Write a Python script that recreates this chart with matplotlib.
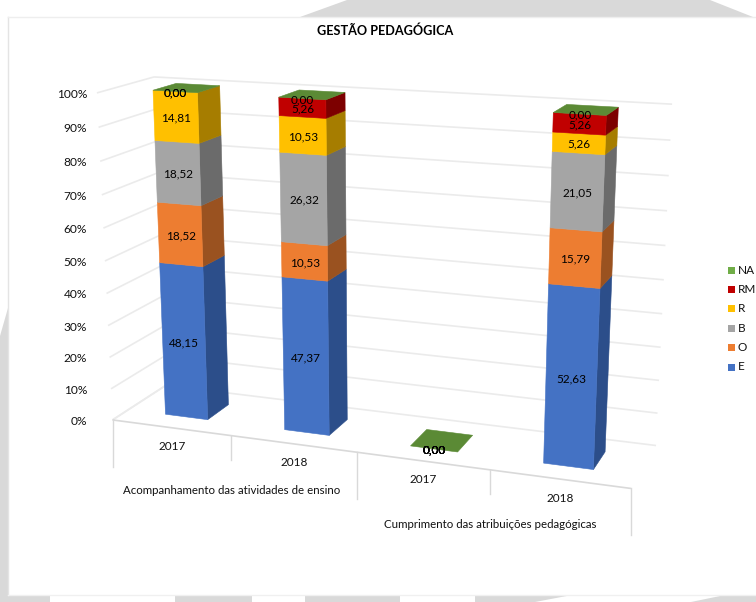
#!/usr/bin/env python3
import numpy as np
import matplotlib
matplotlib.use('Agg')
import matplotlib.pyplot as plt
from matplotlib.patches import Polygon, Rectangle

plt.rcParams['font.family'] = ['Lato', 'DejaVu Sans']

title = 'GESTÃO PEDAGÓGICA'
series = ['E', 'O', 'B', 'R', 'RM', 'NA']
years = ['2017', '2018', '2017', '2018']
groups = ['Acompanhamento das atividades de ensino', 'Cumprimento das atribuições pedagógicas']
E = [48.15, 47.37, 0.00, 52.63]
O = [18.52, 10.53, 0.00, 15.79]
B = [18.52, 26.32, 0.00, 21.05]
R = [14.81, 10.53, 0.00, 5.26]
RM = [0.00, 5.26, 0.00, 5.26]
NA = [0.00, 0.00, 0.00, 0.00]
values = [E, O, B, R, RM, NA]
pct_ticks = [0, 10, 20, 30, 40, 50, 60, 70, 80, 90, 100]

front = ['#4472C4', '#ED7D31', '#A5A5A5', '#FFC000', '#C00000', '#70AD47']
side = ['#2C4E8A', '#9A5220', '#6B6B6B', '#A67D00', '#7D0000', '#4A7330']
top_col = '#5B8A35'
grid = '#EBEBEB'
page = '#D9D9D9'

# camera fit: (category, percent, depth) -> pixel, solved from the box corners
box3d = [(0, 0, 0), (1, 0, 0), (2, 0, 0), (3, 0, 0), (4, 0, 0), (0, 0, 1), (4, 0, 1),
         (0, 100, 1), (4, 100, 1), (0, 100, 0)]
box2d = [(113, 420), (232, 436), (357, 452), (490, 470), (631, 488), (165, 385), (656, 446),
         (155, 77), (672, 104), (96, 93)]
rows = []
for (c, v, d), (px, py) in zip(box3d, box2d):
    p = [c, v / 100, d, 1]
    rows.append(p + [0, 0, 0, 0] + [-px * a for a in p])
    rows.append([0, 0, 0, 0] + p + [-py * a for a in p])
cam = np.linalg.svd(np.array(rows, dtype=float))[2][-1].reshape(3, 4)


def proj(c, v, d):
    x, y, w = cam @ np.array([c, v / 100, d, 1.0])
    return x / w, y / w


def face(ax, pts, color, z=3):
    ax.add_patch(Polygon([proj(*p) for p in pts], closed=True, facecolor=color,
                         edgecolor=color, linewidth=0.4, zorder=z))


def seg(ax, a, b, z=1, color=grid, lw=1.2):
    (x0, y0), (x1, y1) = proj(*a), proj(*b)
    ax.plot([x0, x1], [y0, y1], color=color, lw=lw, zorder=z, solid_capstyle='butt')


fig = plt.figure(figsize=(7.56, 6.02), dpi=100)
ax = fig.add_axes([0, 0, 1, 1])
ax.set_xlim(0, 756)
ax.set_ylim(602, 0)
ax.axis('off')

# page background scraps round the chart
ax.add_patch(Polygon([(300, 17), (347, 0), (710, 0), (753, 17)], facecolor=page, edgecolor='none', zorder=0.5))
ax.add_patch(Polygon([(8, 308), (8, 602), (0, 602), (0, 336)], facecolor=page, edgecolor='none', zorder=0.5))
ax.add_patch(Rectangle((0, 595), 50, 7, facecolor=page, edgecolor='none', zorder=0.5))
ax.add_patch(Rectangle((175, 595), 77, 7, facecolor=page, edgecolor='none', zorder=0.5))
ax.add_patch(Rectangle((305, 595), 95, 7, facecolor=page, edgecolor='none', zorder=0.5))
ax.add_patch(Polygon([(475, 595), (572, 595), (535, 602), (475, 602)], facecolor=page, edgecolor='none', zorder=0.5))
ax.add_patch(Polygon([(691, 602), (725, 595), (756, 595), (756, 602)], facecolor=page, edgecolor='none', zorder=0.5))
ax.plot([8, 8], [595, 17], color='#E4E4E4', lw=1.0, zorder=0.6)
ax.plot([8, 756], [17, 17], color='#EEEEEE', lw=1.0, zorder=0.6)
ax.plot([8, 756], [595, 595], color='#F0F0F0', lw=1.0, zorder=0.6)

# walls and floor
for v in pct_ticks:
    seg(ax, (0, v, 0), (0, v, 1))
    seg(ax, (0, v, 1), (4, v, 1))
seg(ax, (0, 0, 0), (0, 0, 1))
seg(ax, (0, 0, 0), (4, 0, 0), color='#D9D9D9')

# category axis dividers
for c, drop in zip([0, 1, 2, 3, 4], [47, 24, 47, 24, 47]):
    x, y = proj(c, 0, 0)
    ax.plot([x, x], [y, y + drop], color='#D9D9D9', lw=1.0, zorder=1)

for v in pct_ticks:
    x, y = proj(0, v, 0)
    ax.text(87, y + 1.5, f'{v}%', ha='right', va='center', fontsize=8.6, color='#111111')

# bars, drawn far to near inside each stack
c_gap = 0.32
d0, d1 = 0.29, 0.71
for i in range(len(years)):
    c0, c1 = i + c_gap, i + 1 - c_gap
    base = 0
    for s, vals in enumerate(values):
        v = vals[i]
        hi = base + v
        if v > 0:
            face(ax, [(c1, base, d0), (c1, base, d1), (c1, hi, d1), (c1, hi, d0)], side[s])
            face(ax, [(c0, base, d0), (c1, base, d0), (c1, hi, d0), (c0, hi, d0)], front[s], z=4)
        base = hi
    face(ax, [(c0, base, d0), (c1, base, d0), (c1, base, d1), (c0, base, d1)], top_col, z=4)
    base = 0
    for s, vals in enumerate(values):
        v = vals[i]
        x, y = proj((c0 + c1) / 2, base + v / 2, d0)
        ax.text(x + 0.5, y + 1, f'{v:.2f}'.replace('.', ','), ha='center', va='center',
                fontsize=8.5, color='#000000', zorder=6)
        base += v

# category labels
for i, yr in enumerate(years):
    x, y = proj(i + 0.5, 0, 0)
    ax.text(x + 0.5, y + 19, yr, ha='center', va='center', fontsize=8.5, color='#111111')
for i, g in enumerate(groups):
    x, y = proj(2 * i + 1, 0, 0)
    ax.text(x, y + 55, g, ha='center', va='center', fontsize=8.3, color='#111111')

ax.text(385, 31, title, ha='center', va='center', fontsize=9.1, fontweight='bold', color='#000000')

# legend, top entry is last series
for n, s in enumerate(range(len(series) - 1, -1, -1)):
    y = 270 + n * 19.4
    ax.add_patch(Rectangle((728, y - 3.5), 7, 7, facecolor=front[s], edgecolor='none'))
    ax.text(738, y, series[s], ha='left', va='center', fontsize=8.5, color='#111111')

fig.savefig('out.png', dpi=100)
